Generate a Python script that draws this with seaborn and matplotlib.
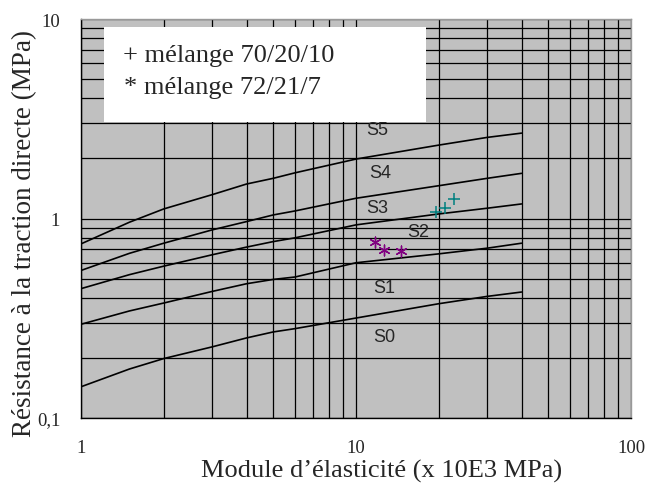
import matplotlib
matplotlib.use("Agg")
import matplotlib.pyplot as plt
import matplotlib.ticker as mticker
from matplotlib.patches import Rectangle
from matplotlib.font_manager import FontProperties
import numpy as np
import pandas as pd
import seaborn as sns

# ---- data ----
x_curve = [1, 1.5, 2, 3, 4, 5, 6, 10, 20, 30, 40]
c5 = [0.746, 0.958, 1.117, 1.317, 1.489, 1.590, 1.694, 1.986, 2.333, 2.550, 2.679]
c4 = [0.549, 0.669, 0.752, 0.877, 0.965, 1.042, 1.091, 1.263, 1.460, 1.590, 1.684]
c3 = [0.445, 0.523, 0.577, 0.658, 0.719, 0.766, 0.800, 0.929, 1.054, 1.126, 1.183]
c2 = [0.295, 0.344, 0.377, 0.431, 0.471, 0.495, 0.509, 0.600, 0.665, 0.710, 0.752]
c1 = [0.1434, 0.176, 0.1986, 0.2273, 0.252, 0.270, 0.2805, 0.317, 0.374, 0.407, 0.428]

mix1_x = [19.5, 21.1, 22.8]      # + mélange 70/20/10
mix1_y = [1.075, 1.126, 1.253]
mix2_x = [11.7, 12.65, 14.6]     # * mélange 72/21/7
mix2_y = [0.761, 0.699, 0.686]

zone_labels = ["S5", "S4", "S3", "S2", "S1", "S0"]
zone_x = [11.97, 12.26, 11.92, 16.85, 12.65, 12.72]
zone_y = [2.805, 1.710, 1.134, 0.860, 0.4534, 0.255]

legend_lines = ["+ mélange 70/20/10", "* mélange 72/21/7"]
y_ticks = [0.1, 1, 10]
y_ticklabels = ["0,1", "1", "10"]
x_ticks = [1, 10, 100]
x_ticklabels = ["1", "10", "100"]

curves = pd.concat([
    pd.DataFrame({"E": x_curve, "R": c, "curve": name})
    for name, c in zip(["C5", "C4", "C3", "C2", "C1"], [c5, c4, c3, c2, c1])
])

sns.set_style("white")
plt.rcParams["font.family"] = ["Liberation Serif", "DejaVu Serif"]

fig = plt.figure(figsize=(6.57, 4.85), dpi=100)
ax = fig.add_axes([81 / 657, 1 - 419 / 485, 550 / 657, 399 / 485])
ax.set_facecolor("#C0C0C0")

ax.set_xscale("log")
ax.set_yscale("log")
ax.set_xlim(1, 100)
ax.set_ylim(0.1, 10)

sns.lineplot(data=curves, x="E", y="R", units="curve", estimator=None,
             color="black", lw=1.2, ax=ax, zorder=3, sort=False)

sns.scatterplot(x=mix1_x, y=mix1_y, marker="+", s=70, color="#008080",
                linewidth=1.1, ax=ax, zorder=4)
sns.scatterplot(x=mix2_x, y=mix2_y, marker=(6, 2, 0), s=60, color="#800080",
                linewidth=1.0, edgecolor="#800080", ax=ax, zorder=4)

sans = FontProperties(family="Liberation Sans", size=13)
for lab, xx, yy in zip(zone_labels, zone_x, zone_y):
    ax.text(xx, yy, lab, ha="center", va="center", fontproperties=sans,
            zorder=5)

ax.grid(True, which="both", color="black", lw=0.9)
ax.set_axisbelow(True)

ax.set_xticks(x_ticks)
ax.set_xticklabels(x_ticklabels)
ax.set_yticks(y_ticks)
ax.set_yticklabels(y_ticklabels)
ax.xaxis.set_minor_formatter(mticker.NullFormatter())
ax.yaxis.set_minor_formatter(mticker.NullFormatter())
ax.tick_params(which="minor", length=0)
ax.tick_params(axis="x", which="major", length=6, width=1, direction="out",
               pad=9, labelsize=13.5, color="black")
ax.tick_params(axis="y", which="major", length=7, width=1, direction="out",
               pad=8, labelsize=13.5, color="black")

for s in ["left", "bottom"]:
    ax.spines[s].set_color("black")
    ax.spines[s].set_linewidth(1)
for s in ["top", "right"]:
    ax.spines[s].set_color("#999999")
    ax.spines[s].set_linewidth(1)

# legend box
ax.add_patch(Rectangle((23 / 550, (419 - 123) / 399), 322 / 550, 95 / 399,
                       transform=ax.transAxes, facecolor="white",
                       edgecolor="none", zorder=6))
ax.text(42 / 550, (419 - 62) / 399, legend_lines[0], transform=ax.transAxes,
        fontsize=19, va="baseline", ha="left", zorder=7)
ax.text(43 / 550, (419 - 93.5) / 399, legend_lines[1], transform=ax.transAxes,
        fontsize=19, va="baseline", ha="left", zorder=7)

ax.set_xlabel("Module d’élasticité (x 10E3 MPa)", fontsize=19)
ax.set_ylabel("Résistance à la traction directe (MPa)", fontsize=19.5)
ax.xaxis.set_label_coords(0.546, -0.103)
ax.yaxis.set_label_coords(-0.08, 0.464)

fig.savefig("out.png", dpi=100)
